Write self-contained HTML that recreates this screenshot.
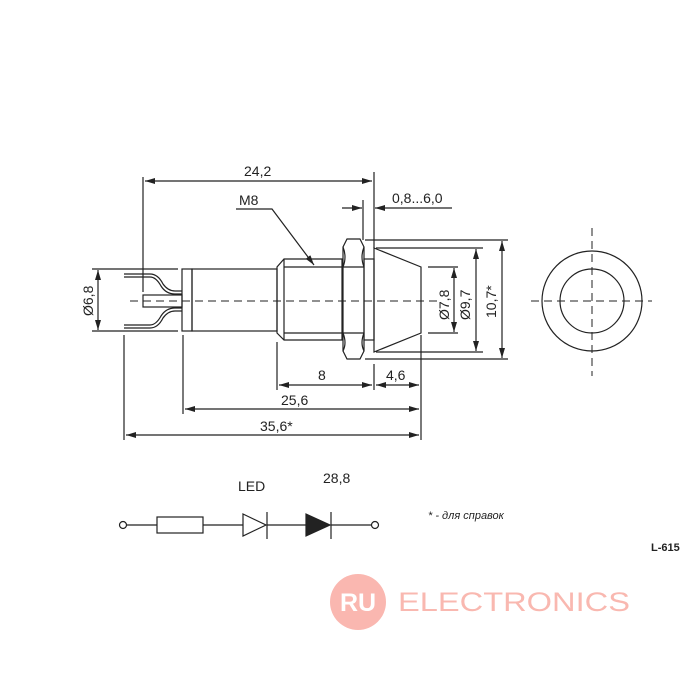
<!DOCTYPE html>
<html><head><meta charset="utf-8"><style>html,body{margin:0;padding:0;background:#fff}svg{display:block}</style></head>
<body>
<svg width="700" height="700" viewBox="0 0 700 700" xmlns="http://www.w3.org/2000/svg" font-family="Liberation Sans, sans-serif">
<defs>
<marker id="a" viewBox="0 0 10 6" refX="10" refY="3" markerWidth="10" markerHeight="6" markerUnits="userSpaceOnUse" orient="auto-start-reverse"><path d="M0,0L10,3L0,6z" fill="#222"/></marker>
</defs>
<g stroke="#222" stroke-width="1.2" fill="none">
<line x1="130" y1="301" x2="440" y2="301" stroke-dasharray="8,5" stroke-width="1"/>
<rect x="143" y="295" width="39" height="12"/>
<path d="M124,274 H150 Q158,274 163,284 Q168,291 175,291 H182"/>
<path d="M124,277 H150 Q156,277 161,286 Q166,294 175,294 H182"/>
<path d="M124,328 H150 Q158,328 163,318 Q168,311 175,311 H182"/>
<path d="M124,325 H150 Q156,325 161,316 Q166,308 175,308 H182"/>
<rect x="182" y="269" width="10" height="62"/>
<rect x="192" y="269" width="85" height="62"/>
<path d="M284,259 H342 V340 H284 L277,333 V267 Z"/>
<line x1="284" y1="259" x2="284" y2="340"/>
<line x1="284" y1="267" x2="342" y2="267"/>
<line x1="284" y1="333" x2="342" y2="333"/>
<path d="M347,239 H360 L364,247 V351 L360,359 H347 L343,351 V247 Z"/>
<path d="M343,267 H364 M343,333 H364"/>
<path d="M343,247 Q347,257 343,267 M343,333 Q347,343 343,351 M364,247 Q360,257 364,267 M364,333 Q360,343 364,351"/>
<rect x="364" y="259" width="10" height="81"/>
<path d="M374,248 L421,267 V333 L374,352 Z"/>
<line x1="143" y1="177" x2="143" y2="292"/>
<line x1="374" y1="172" x2="374" y2="248"/>
<line x1="145" y1="181" x2="372" y2="181" marker-start="url(#a)" marker-end="url(#a)"/>
<path d="M236,209 H272 L314,265" marker-end="url(#a)"/>
<line x1="363" y1="200" x2="363" y2="240"/>
<line x1="342" y1="208" x2="362" y2="208" marker-end="url(#a)"/>
<line x1="452" y1="208" x2="375" y2="208" marker-end="url(#a)"/>
<line x1="92" y1="269" x2="178" y2="269"/>
<line x1="92" y1="331" x2="178" y2="331"/>
<line x1="98" y1="270" x2="98" y2="330" marker-start="url(#a)" marker-end="url(#a)"/>
<line x1="365" y1="240" x2="508" y2="240"/>
<line x1="365" y1="359" x2="508" y2="359"/>
<line x1="502" y1="241" x2="502" y2="358" marker-start="url(#a)" marker-end="url(#a)"/>
<line x1="376" y1="248" x2="483" y2="248"/>
<line x1="376" y1="352" x2="483" y2="352"/>
<line x1="476" y1="249" x2="476" y2="351" marker-start="url(#a)" marker-end="url(#a)"/>
<line x1="428" y1="267" x2="458" y2="267"/>
<line x1="428" y1="333" x2="458" y2="333"/>
<line x1="454" y1="268" x2="454" y2="332" marker-start="url(#a)" marker-end="url(#a)"/>
<line x1="124" y1="335" x2="124" y2="440"/>
<line x1="183" y1="335" x2="183" y2="414"/>
<line x1="277" y1="342" x2="277" y2="390"/>
<line x1="374" y1="364" x2="374" y2="390"/>
<line x1="421" y1="335" x2="421" y2="440"/>
<line x1="279" y1="385" x2="372" y2="385" marker-start="url(#a)" marker-end="url(#a)"/>
<line x1="376" y1="385" x2="419" y2="385" marker-start="url(#a)" marker-end="url(#a)"/>
<line x1="185" y1="409" x2="419" y2="409" marker-start="url(#a)" marker-end="url(#a)"/>
<line x1="126" y1="435" x2="419" y2="435" marker-start="url(#a)" marker-end="url(#a)"/>
<circle cx="592" cy="301" r="50"/>
<circle cx="592" cy="301" r="32"/>
<line x1="531" y1="301" x2="652" y2="301" stroke-dasharray="8,5" stroke-width="1"/>
<line x1="592" y1="228" x2="592" y2="376" stroke-dasharray="8,5" stroke-width="1"/>
<circle cx="123" cy="525" r="3.5"/>
<line x1="127" y1="525" x2="157" y2="525"/>
<rect x="157" y="517" width="46" height="16"/>
<line x1="203" y1="525" x2="243" y2="525"/>
<path d="M243,514 L266,525 L243,536 Z"/>
<line x1="267" y1="512" x2="267" y2="539"/>
<line x1="267" y1="525" x2="306" y2="525"/>
<path d="M306,514 L330,525 L306,536 Z" fill="#222"/>
<line x1="331" y1="512" x2="331" y2="539"/>
<line x1="331" y1="525" x2="371" y2="525"/>
<circle cx="375" cy="525" r="3.5"/>
</g>
<g fill="#222" font-size="14">
<text x="244" y="176">24,2</text>
<text x="239" y="205">M8</text>
<text x="392" y="203">0,8...6,0</text>
<text x="318" y="380">8</text>
<text x="386" y="380">4,6</text>
<text x="281" y="405">25,6</text>
<text x="260" y="431">35,6*</text>
<text transform="translate(93,316) rotate(-90)">Ø6,8</text>
<text transform="translate(449,320) rotate(-90)">Ø7,8</text>
<text transform="translate(470,320) rotate(-90)">Ø9,7</text>
<text transform="translate(496,318) rotate(-90)">10,7*</text>
<text x="238" y="491">LED</text>
<text x="323" y="483">28,8</text>
<text x="428" y="519" font-size="11" font-style="italic">* - для справок</text>
<text x="651" y="551" font-size="11" font-weight="bold">L-615</text>
</g>
<circle cx="358" cy="602" r="28" fill="#fab7b0"/>
<text x="358" y="611" font-size="25" fill="#fff" font-weight="bold" text-anchor="middle">RU</text>
<text x="398" y="611" font-size="27" fill="#f9b8b0" textLength="232" lengthAdjust="spacingAndGlyphs">ELECTRONICS</text>
</svg>
</body></html>
